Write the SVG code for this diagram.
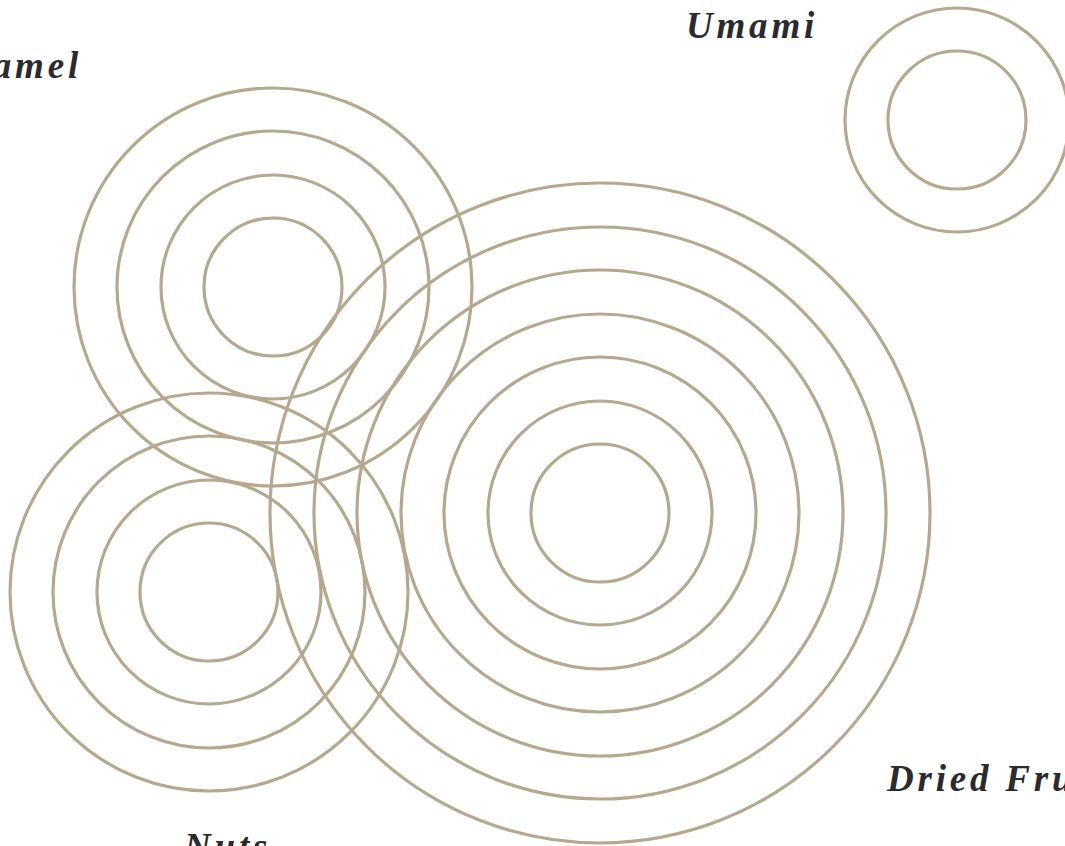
<svg xmlns="http://www.w3.org/2000/svg" width="1065" height="846" viewBox="0 0 1065 846">
<style>
.r{fill:none;stroke:#b5a88f;stroke-width:3.2}
.t{font-family:"Liberation Serif","DejaVu Serif",serif;font-style:italic;font-weight:bold;font-size:37px;letter-spacing:3.8px;fill:#2a2a2f}
</style>
<rect width="1065" height="846" fill="#ffffff"/>
<g id="center">
<circle class="r" cx="600" cy="513" r="69"/>
<circle class="r" cx="600" cy="513" r="112"/>
<circle class="r" cx="600" cy="513" r="156"/>
<circle class="r" cx="600" cy="513" r="199"/>
<circle class="r" cx="600" cy="513" r="243"/>
<circle class="r" cx="600" cy="513" r="286"/>
<circle class="r" cx="600" cy="513" r="330"/>
</g>
<g id="caramel">
<circle class="r" cx="273" cy="287" r="69"/>
<circle class="r" cx="273" cy="287" r="112"/>
<circle class="r" cx="273" cy="287" r="156"/>
<circle class="r" cx="273" cy="287" r="199"/>
<text class="t" x="82" y="78" text-anchor="end">Caramel</text>
</g>
<g id="nuts">
<circle class="r" cx="209" cy="592" r="69"/>
<circle class="r" cx="209" cy="592" r="112"/>
<circle class="r" cx="209" cy="592" r="156"/>
<circle class="r" cx="209" cy="592" r="199"/>
<text class="t" x="184" y="859">Nuts</text>
</g>
<g id="umami">
<circle class="r" cx="957" cy="120" r="69"/>
<circle class="r" cx="957" cy="120" r="112"/>
<text class="t" x="686" y="38">Umami</text>
</g>
<g id="dried-fruits">
<text class="t" x="887" y="791">Dried Fruits</text>
</g>
<g id="connectors"/>
</svg>
